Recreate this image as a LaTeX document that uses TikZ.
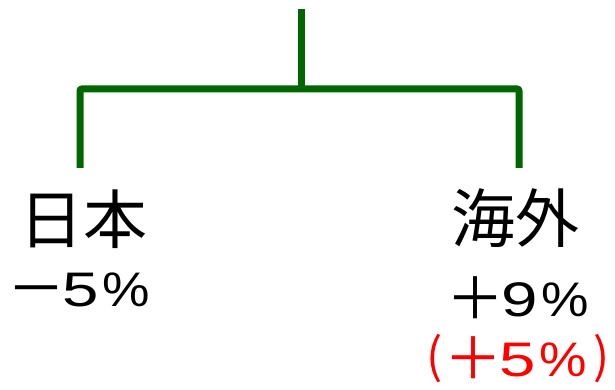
\documentclass[tikz,border=0pt]{standalone}
\usepackage{fontspec}
\newfontfamily\cjk{Noto Sans CJK JP}
\newfontfamily\digitfont{Liberation Sans}
\definecolor{treegreen}{RGB}{0,102,0}
\definecolor{redtext}{RGB}{255,0,0}
% full-width sign in a 45pt cell
\newcommand\sg[1]{\makebox[45pt][c]{\raisebox{-3pt}{\cjk\fontsize{58}{60}\selectfont #1}}}
% stretched digit or percent sign in a 45pt cell
\newcommand\dg[2]{\makebox[45pt][c]{\scalebox{#1}[1]{\digitfont\fontsize{48.5}{52}\selectfont #2}}}
% parenthesis in a 32pt cell
\newcommand\pc[1]{\makebox[32pt][c]{\raisebox{3pt}{\cjk\fontsize{48}{50}\selectfont #1}}}
\begin{document}
\begin{tikzpicture}[x=1pt,y=-1pt,
  branch/.style={draw=treegreen,line width=7pt,line cap=butt,rounded corners=2pt},
  title/.style={inner sep=0pt,font=\cjk\fontsize{64}{70}\selectfont},
  value/.style={inner sep=0pt,anchor=base}]
\useasboundingbox (0,0) rectangle (615,390);
\coordinate (top) at (301,9);
\coordinate (mid) at (301,89);
\coordinate (lc) at (80,168);
\coordinate (rc) at (519,168);
\draw[branch] (top) -- (mid);
\draw[branch] (lc) |- (mid) -| (rc);
\node[title] (jp) at (83.5,219) {日本};
\node[value] (jpv) at (81,306.5) {\sg{－}\dg{1.35}{5}\dg{1.1}{\%}};
\node[title] (ov) at (515,218.5) {海外};
\node[value] (ovv) at (520,316.5) {\sg{＋}\dg{1.35}{9}\dg{1.1}{\%}};
\node[value,text=redtext] (ovr) at (518,376.5) {\pc{(}\sg{＋}\dg{1.35}{5}\dg{1.1}{\%}\pc{)}};
\end{tikzpicture}
\end{document}
